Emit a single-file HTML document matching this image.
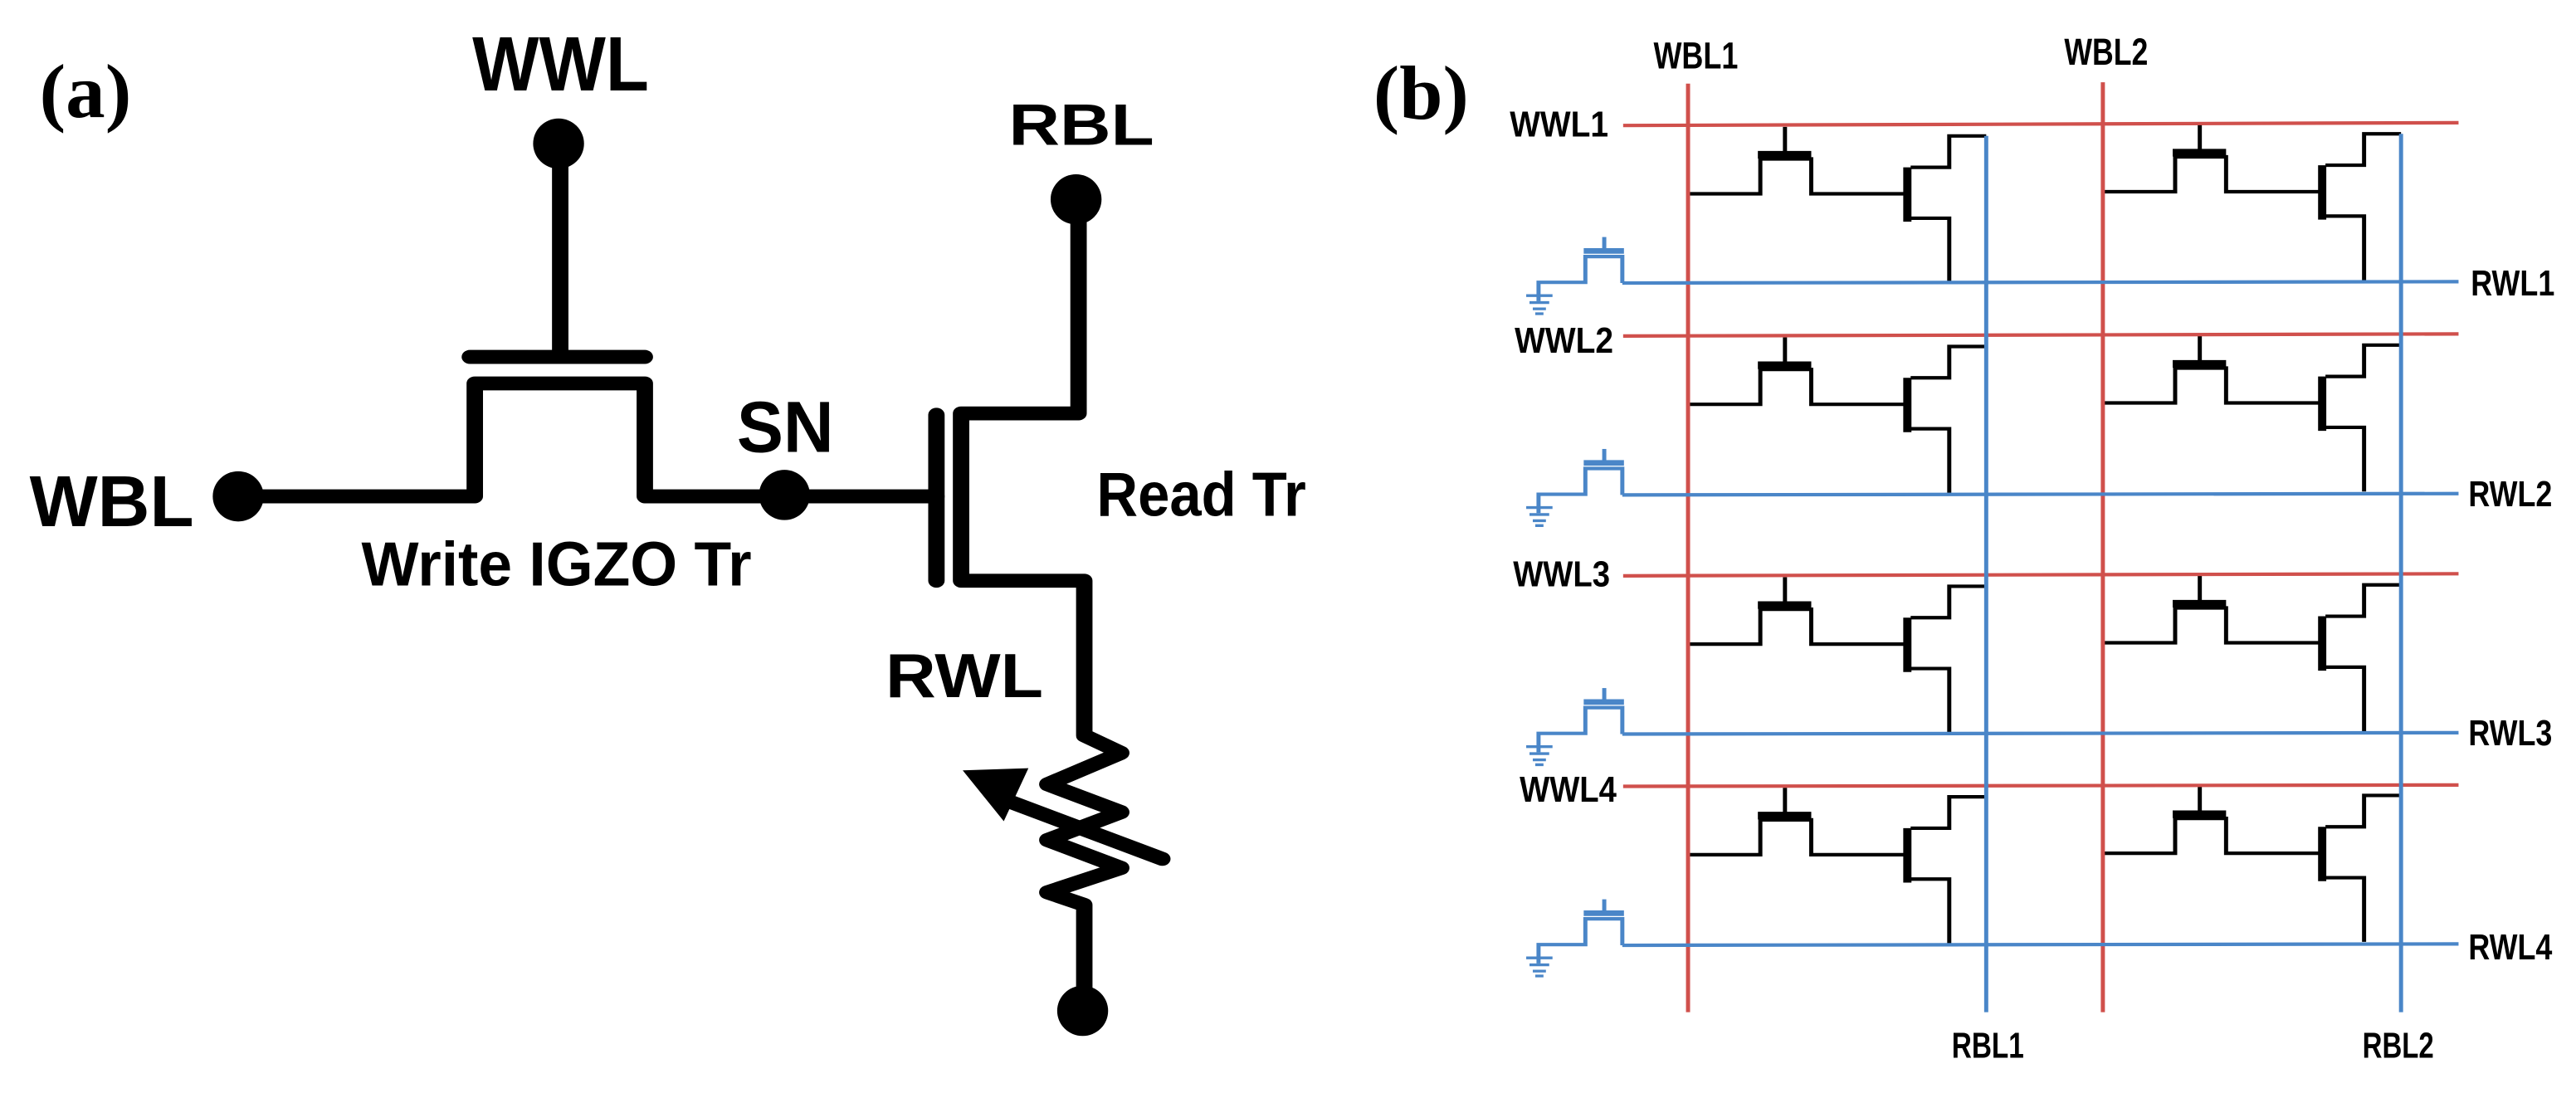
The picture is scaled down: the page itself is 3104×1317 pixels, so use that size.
<!DOCTYPE html>
<html><head><meta charset="utf-8"><style>
html,body{margin:0;padding:0;background:#fff;width:3104px;height:1317px;overflow:hidden}
text{font-family:"Liberation Sans",sans-serif;font-weight:bold}
.s{font-family:"Liberation Serif",serif}
</style></head><body>
<svg width="3104" height="1317" viewBox="0 0 3104 1317" xmlns="http://www.w3.org/2000/svg">
<defs>
<g id="cell" fill="none" stroke="#000" stroke-width="5">
  <path d="M487,278 H575 V228 H637 V278 H752"/>
  <path d="M572,222 H637" stroke-width="11"/>
  <path d="M605,182 V222"/>
  <path d="M754,240 V318" stroke-width="10"/>
  <path d="M758,240 H805 V195 H850"/>
  <path d="M758,313 H805 V405"/>
</g>
<g id="gnd" fill="none" stroke="#4a86c8" stroke-width="5">
  <path d="M305,432 V405 H362 V368 H407 V406"/>
  <path d="M360,360 H409" stroke-width="8"/>
  <path d="M385,340 V360"/>
  <path d="M290,424 H322 M294,434 H318 M298,443 H314 M301,450 H311" stroke-width="4"/>
</g>
</defs>
<g transform="scale(0.9898,0.84)">
  <text class="s" x="48" y="168" font-size="110" textLength="112" lengthAdjust="spacingAndGlyphs">(a)</text>
  <text x="575" y="130" font-size="111" textLength="215" lengthAdjust="spacingAndGlyphs">WWL</text>
  <text x="1228" y="208" font-size="84" textLength="177" lengthAdjust="spacingAndGlyphs">RBL</text>
  <text x="36" y="755" font-size="104" textLength="200" lengthAdjust="spacingAndGlyphs">WBL</text>
  <text x="897" y="648" font-size="104" textLength="118" lengthAdjust="spacingAndGlyphs">SN</text>
  <text x="1335" y="740" font-size="90" textLength="255" lengthAdjust="spacingAndGlyphs">Read Tr</text>
  <text x="440" y="840" font-size="90" textLength="475" lengthAdjust="spacingAndGlyphs">Write IGZO Tr</text>
  <text x="1078" y="1000" font-size="90" textLength="192" lengthAdjust="spacingAndGlyphs">RWL</text>
  <g fill="none" stroke="#000" stroke-width="20" stroke-linecap="round" stroke-linejoin="round">
    <path d="M682,205 V505"/>
    <path d="M572,512 H785"/>
    <path d="M290,712 H578 V550 H785 V712 H1140"/>
    <path d="M1140,595 V833"/>
    <path d="M1313,285 V593 H1170 V833 H1320 V1055 L1365,1080 L1275,1125 L1365,1165 L1275,1205 L1365,1245 L1275,1280 L1320,1298 V1450"/>
    <path d="M1415,1232 L1225,1148"/>
  </g>
  <path d="M1172,1105 L1252,1102 L1222,1178 Z" fill="#000"/>
  <ellipse cx="680" cy="206" rx="31" ry="36" fill="#000"/>
  <ellipse cx="1310" cy="286" rx="31" ry="36" fill="#000"/>
  <ellipse cx="290" cy="712" rx="31" ry="36" fill="#000"/>
  <ellipse cx="955" cy="710" rx="31" ry="36" fill="#000"/>
  <ellipse cx="1318" cy="1450" rx="31" ry="36" fill="#000"/>
</g>
<g transform="translate(1552,0) scale(0.9898,0.84)">
  <text class="s" x="104" y="170" font-size="110" textLength="116" lengthAdjust="spacingAndGlyphs">(b)</text>
  <text x="445" y="98" font-size="54" textLength="103" lengthAdjust="spacingAndGlyphs">WBL1</text>
  <text x="945" y="93" font-size="54" textLength="102" lengthAdjust="spacingAndGlyphs">WBL2</text>
  <text x="270" y="196" font-size="52" textLength="120" lengthAdjust="spacingAndGlyphs">WWL1</text>
  <text x="276" y="506" font-size="52" textLength="120" lengthAdjust="spacingAndGlyphs">WWL2</text>
  <text x="274" y="841" font-size="52" textLength="118" lengthAdjust="spacingAndGlyphs">WWL3</text>
  <text x="282" y="1150" font-size="52" textLength="118" lengthAdjust="spacingAndGlyphs">WWL4</text>
  <text x="1440" y="424" font-size="52" textLength="102" lengthAdjust="spacingAndGlyphs">RWL1</text>
  <text x="1437" y="726" font-size="52" textLength="102" lengthAdjust="spacingAndGlyphs">RWL2</text>
  <text x="1437" y="1069" font-size="52" textLength="102" lengthAdjust="spacingAndGlyphs">RWL3</text>
  <text x="1437" y="1376" font-size="52" textLength="102" lengthAdjust="spacingAndGlyphs">RWL4</text>
  <text x="808" y="1517" font-size="52" textLength="88" lengthAdjust="spacingAndGlyphs">RBL1</text>
  <text x="1308" y="1517" font-size="52" textLength="87" lengthAdjust="spacingAndGlyphs">RBL2</text>
  <use href="#cell"/><use href="#cell" transform="translate(505,-3)"/>
  <use href="#cell" transform="translate(0,302)"/><use href="#cell" transform="translate(505,300)"/>
  <use href="#cell" transform="translate(0,646)"/><use href="#cell" transform="translate(505,644)"/>
  <use href="#cell" transform="translate(0,948)"/><use href="#cell" transform="translate(505,946)"/>
  <use href="#gnd"/><use href="#gnd" transform="translate(0,304)"/>
  <use href="#gnd" transform="translate(0,647)"/><use href="#gnd" transform="translate(0,950)"/>
  <g stroke="#d0504c" stroke-width="5" fill="none">
    <path d="M487,120 V1452 M992,118 V1452"/>
    <path d="M408,180 L1425,176 M408,482 L1425,479 M408,826 L1425,823 M408,1128 L1425,1126"/>
  </g>
  <g stroke="#4a86c8" stroke-width="5" fill="none">
    <path d="M850,195 V1452 M1355,192 V1452"/>
    <path d="M407,406 L1425,404 M407,710 L1425,708 M407,1053 L1425,1051 M407,1356 L1425,1354"/>
  </g>
</g>
</svg>
</body></html>
